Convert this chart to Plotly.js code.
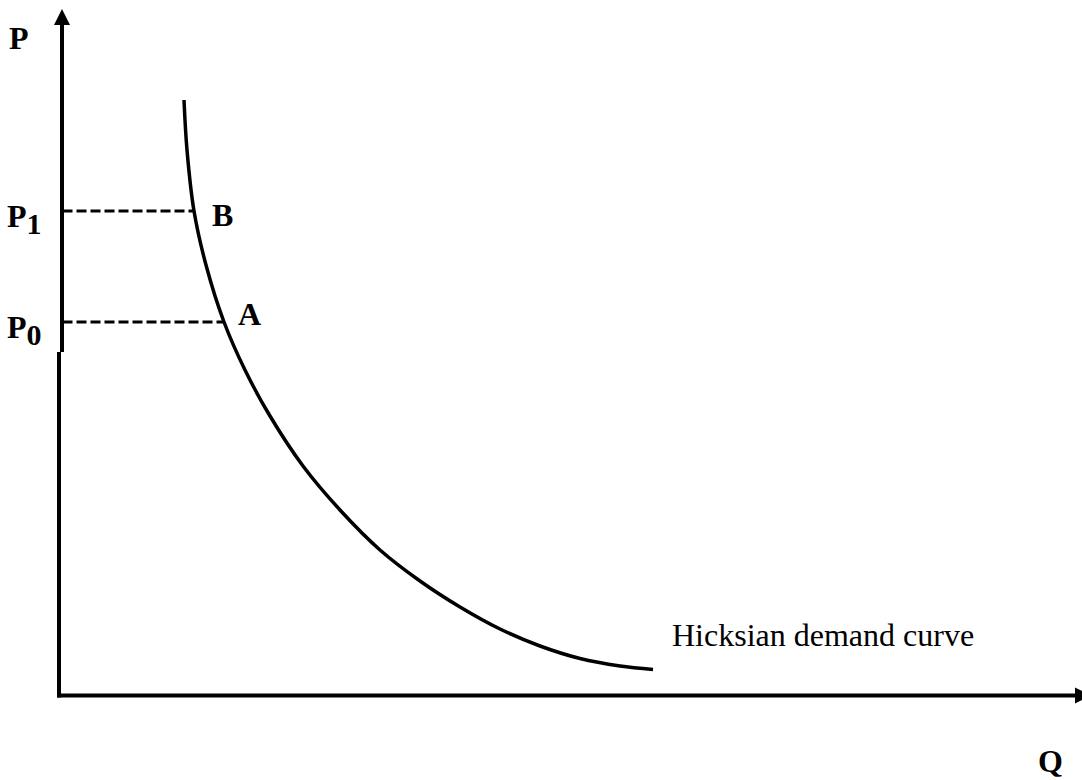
<!DOCTYPE html>
<html>
<head>
<meta charset="utf-8">
<script src="https://cdn.plot.ly/plotly-3.0.1.min.js"></script>
<style>html,body{margin:0;padding:0;background:#fff;overflow:hidden;width:1082px;height:780px;}#chart{width:1100px;height:780px;}</style>
</head>
<body>
<div id="chart"></div>
<script>
// Hicksian demand curve (Q = quantity, P = price, arbitrary units)
const curveQ = [12.4, 12.7, 13.4, 14.6, 16.4, 18.5, 21.0, 24.3, 28.0, 32.0, 36.0, 40.0, 44.0, 48.0, 52.0, 56.0, 59.3];
const curveP = [59.5, 54.5, 48.4, 43.0, 37.3, 32.5, 27.9, 22.9, 18.5, 14.5, 11.4, 8.8, 6.6, 4.9, 3.65, 2.9, 2.55];

// equilibrium points on the curve
const pointNames = ["B", "A"];
const pointQ = [13.4, 16.4];
const pointP = [48.4, 37.3];
const priceLabels = ["P<sub><span style=\"font-size:30px\">1</span></sub>", "P<sub><span style=\"font-size:30px\">0</span></sub>"];

const axisLabels = {y: "P", x: "Q"};
const curveLabel = "Hicksian demand curve";

// axis geometry (data units)
const yAxisTop = 68.6;      // tip of the price-axis arrow
const yAxisBreak = 34.3;    // where the price axis steps
const xAxisEnd = 103.1;     // tip of the quantity-axis arrow

const black = "#000000";
const boldFont = {family: "Liberation Serif, Times New Roman, serif", size: 32, color: black, weight: 700};

const traces = [{
  x: curveQ, y: curveP, mode: "lines", type: "scatter",
  line: {color: black, width: 3.5, shape: "spline", smoothing: 1},
  hoverinfo: "skip", showlegend: false
}];

// dashed guides from the price axis to B and A
pointNames.forEach((n, i) => {
  traces.push({
    x: [0.25, pointQ[i]], y: [pointP[i], pointP[i]], mode: "lines", type: "scatter",
    line: {color: black, width: 3, dash: "10px,4px"}, hoverinfo: "skip", showlegend: false
  });
});

// arrowheads of the axes
traces.push({
  x: [0.2], y: [yAxisTop], mode: "markers", type: "scatter", cliponaxis: false,
  marker: {symbol: "arrow-up", size: 16, color: black, line: {width: 0}},
  hoverinfo: "skip", showlegend: false
});
traces.push({
  x: [xAxisEnd], y: [-0.05], mode: "markers", type: "scatter", cliponaxis: false,
  marker: {symbol: "arrow-right", size: 16, color: black, line: {width: 0}},
  hoverinfo: "skip", showlegend: false
});

const annotations = [
  {x: -4.1, y: 65.7, text: axisLabels.y, showarrow: false, font: boldFont, xanchor: "center", yanchor: "middle"},
  {x: 99.0, y: -6.6, text: axisLabels.x, showarrow: false, font: boldFont, xanchor: "center", yanchor: "middle"},
  {x: 61.0, y: 6.0, text: curveLabel, showarrow: false,
   font: {family: "Liberation Serif, Times New Roman, serif", size: 32, color: black}, xanchor: "left", yanchor: "middle"}
];
pointNames.forEach((n, i) => {
  annotations.push({x: pointQ[i] + (i === 0 ? 2.8 : 2.5), y: pointP[i] - 0.4 + (i === 1 ? 1.2 : 0), text: n, showarrow: false, font: boldFont, xanchor: "center", yanchor: "middle"});
  annotations.push({x: -3.6, y: pointP[i] - 0.8, text: priceLabels[i], showarrow: false, font: boldFont, xanchor: "center", yanchor: "middle"});
});

const layout = {
  width: 1100, height: 780,
  margin: {l: 0, r: 0, t: 0, b: 0, pad: 0},
  paper_bgcolor: "#ffffff", plot_bgcolor: "#ffffff",
  xaxis: {range: [-6, 104], visible: false, fixedrange: true},
  yaxis: {range: [-8.5, 69.5], visible: false, fixedrange: true},
  showlegend: false,
  shapes: [
    // upper part of the price axis
    {type: "line", xref: "x", yref: "y", x0: 0.2, x1: 0.2, y0: yAxisBreak, y1: yAxisTop - 1.2, line: {color: black, width: 4}},
    // lower part of the price axis (slightly offset, as in the original)
    {type: "line", xref: "x", yref: "y", x0: -0.1, x1: -0.1, y0: yAxisBreak, y1: -0.25, line: {color: black, width: 4}},
    // quantity axis
    {type: "line", xref: "x", yref: "y", x0: -0.3, x1: xAxisEnd - 1.2, y0: -0.05, y1: -0.05, line: {color: black, width: 4}}
  ],
  annotations: annotations
};

Plotly.newPlot("chart", traces, layout, {displayModeBar: false, staticPlot: true});
</script>
</body>
</html>
